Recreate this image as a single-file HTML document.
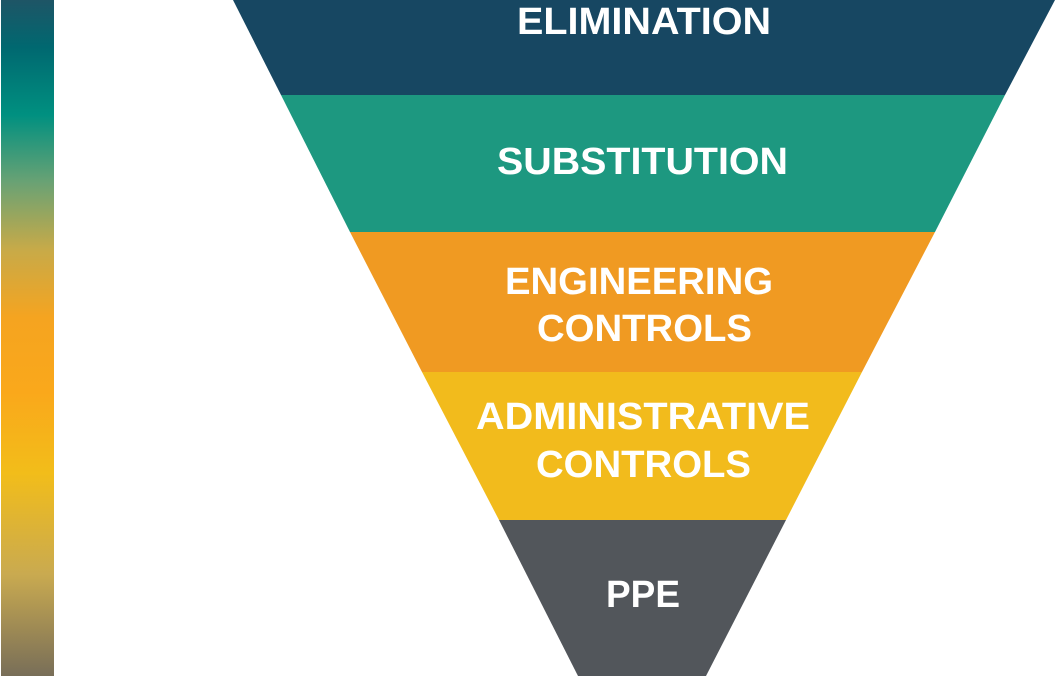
<!DOCTYPE html>
<html><head><meta charset="utf-8"><style>
html,body{margin:0;padding:0;background:#fff;width:1055px;height:676px;overflow:hidden}
svg{display:block}
text{font-family:"Liberation Sans",sans-serif;font-weight:bold;fill:#fff;font-size:38px}
</style></head><body>
<svg width="1055" height="676" viewBox="0 0 1055 676">
<defs><linearGradient id="g" x1="0" y1="0" x2="0" y2="1">
<stop offset="0" stop-color="#1e5566"/>
<stop offset="0.07" stop-color="#006870"/>
<stop offset="0.17" stop-color="#009080"/>
<stop offset="0.27" stop-color="#6aa274"/>
<stop offset="0.37" stop-color="#c8aa48"/>
<stop offset="0.47" stop-color="#f5a420"/>
<stop offset="0.58" stop-color="#faa81b"/>
<stop offset="0.70" stop-color="#f2bd1a"/>
<stop offset="0.85" stop-color="#c9aa50"/>
<stop offset="1" stop-color="#786e58"/>
</linearGradient></defs>
<rect x="1" y="0" width="53" height="676" fill="url(#g)"/>
<polygon points="233,0 1055,0 1005,95 281,95" fill="#174762"/>
<polygon points="281,95 1005,95 935,232 350,232" fill="#1d9880"/>
<polygon points="350,232 935,232 862,372 422,372" fill="#f09a22"/>
<polygon points="422,372 862,372 786,520 499,520" fill="#f2bb1c"/>
<polygon points="499,520 786,520 706,676 578,676" fill="#52565b"/>
<text x="517" y="34" textLength="254" lengthAdjust="spacingAndGlyphs">ELIMINATION</text>
<text x="497" y="174" textLength="291" lengthAdjust="spacingAndGlyphs">SUBSTITUTION</text>
<text x="505" y="294" textLength="268" lengthAdjust="spacingAndGlyphs">ENGINEERING</text>
<text x="537" y="341" textLength="215" lengthAdjust="spacingAndGlyphs">CONTROLS</text>
<text x="476" y="429" textLength="334" lengthAdjust="spacingAndGlyphs">ADMINISTRATIVE</text>
<text x="536" y="477" textLength="215" lengthAdjust="spacingAndGlyphs">CONTROLS</text>
<text x="606" y="607" textLength="74" lengthAdjust="spacingAndGlyphs">PPE</text>
</svg>
</body></html>
